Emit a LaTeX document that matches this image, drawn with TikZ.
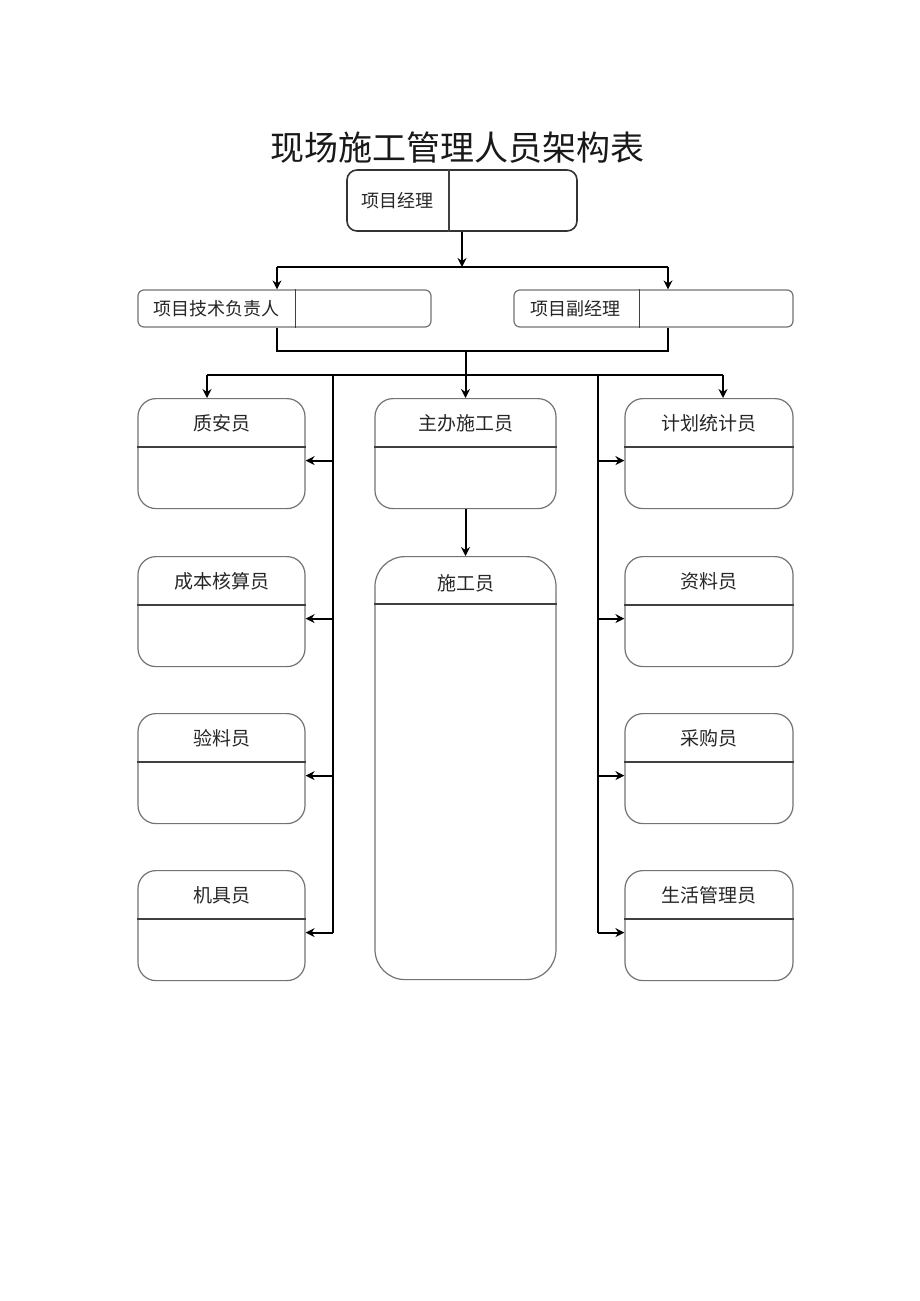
\documentclass[tikz,border=0pt]{standalone}
\usepackage{fontspec}
\newfontfamily\cjk{Noto Sans CJK SC}
\usepackage{tikz}
\usetikzlibrary{positioning,arrows.meta,calc}

\tikzset{
  box/.style={draw=black!55, line width=1.2pt, inner sep=0pt},
  staff/.style={box, rounded corners=18pt, minimum width=167pt, minimum height=110pt},
  head/.style={font=\cjk\fontsize{19}{22}\selectfont, text=black!85},
  lead/.style={font=\cjk\fontsize{18}{21}\selectfont, text=black!85},
  sep/.style={draw=black!75, line width=1.5pt},
  link/.style={draw=black, line width=2pt},
  arr/.style={link, -{Stealth[length=9pt,width=9pt]}}
}

\begin{document}
\begin{tikzpicture}[x=1pt,y=-1pt]
\useasboundingbox (0,0) rectangle (920,1301);

% Title
\node[font=\cjk\fontsize{34}{40}\selectfont, text=black!90] (title) at (457,148) {现场施工管理人员架构表};

% Top level
\node[box, draw=black!80, line width=1.6pt, rounded corners=10pt, minimum width=230pt, minimum height=61pt] (pm) at (462,200.5) {};
\draw[sep] ([xshift=103pt]pm.north west) -- ([xshift=103pt]pm.south west);
\node[lead] (pmtxt) at ($(pm.west)+(51.5,0)$) {项目经理};

\node[box, rounded corners=6pt, minimum width=293pt, minimum height=37pt] (tech) at (284.5,308.5) {};
\draw[sep] ([xshift=158pt]tech.north west) -- ([xshift=158pt]tech.south west);
\node[lead] (techtxt) at ($(tech.west)+(79,0)$) {项目技术负责人};

\node[box, rounded corners=6pt, minimum width=279pt, minimum height=37pt] (dpm) at (653.5,308.5) {};
\draw[sep] ([xshift=126pt]dpm.north west) -- ([xshift=126pt]dpm.south west);
\node[lead] (dpmtxt) at ($(dpm.west)+(62,0)$) {项目副经理};

% Middle column
\node[staff, minimum width=181pt, anchor=north] (zhuban) at (465.5,398) {};
\draw[sep] ([yshift=-49pt]zhuban.north west) -- ([yshift=-49pt]zhuban.north east);
\node[head] (zhubantxt) at ([yshift=-25pt]zhuban.north) {主办施工员};

\node[staff, rounded corners=30pt, minimum width=181pt, minimum height=423pt, anchor=north] (shigong) at (465.5,556) {};
\draw[sep] ([yshift=-48pt]shigong.north west) -- ([yshift=-48pt]shigong.north east);
\node[head] (shigongtxt) at ([yshift=-27pt]shigong.north) {施工员};

% Bus coordinates
\coordinate (t1) at (277,267);
\coordinate (t2) at (668,267);
\coordinate (b1) at (277,351);
\coordinate (b2) at (668,351);
\coordinate (c1) at (207,375);
\coordinate (c2) at (723,375);
\coordinate (lbus) at (333,375);
\coordinate (rbus) at (598,375);

% Side columns
\foreach \nm/\txt/\y in {zhian/质安员/398, chengben/成本核算员/556, yanliao/验料员/713, jiju/机具员/870} {
  \node[staff, anchor=north] (\nm) at (221.5,\y) {};
  \draw[sep] ([yshift=-49pt]\nm.north west) -- ([yshift=-49pt]\nm.north east);
  \node[head] (\nm txt) at ([yshift=-25pt]\nm.north) {\txt};
  \coordinate (\nm-in) at ([yshift=-7pt]\nm.east);
  \draw[arr] (\nm-in -| lbus) -- (\nm-in);
}
\foreach \nm/\txt/\y in {jihua/计划统计员/398, ziliao/资料员/556, caigou/采购员/713, shenghuo/生活管理员/870} {
  \node[staff, minimum width=168pt, anchor=north] (\nm) at (709,\y) {};
  \draw[sep] ([yshift=-49pt]\nm.north west) -- ([yshift=-49pt]\nm.north east);
  \node[head] (\nm txt) at ([yshift=-25pt]\nm.north) {\txt};
  \coordinate (\nm-in) at ([yshift=-7pt]\nm.west);
  \draw[arr] (\nm-in -| rbus) -- (\nm-in);
}

% Connectors
\draw[arr] (pm.south) -- (pm.south |- t1);
\draw[link] (t1) -- (t2);
\draw[arr] (t1) -- (t1 |- tech.north);
\draw[arr] (t2) -- (t2 |- dpm.north);

\draw[link] (tech.south -| b1) -- (b1) -- (b2) -- (dpm.south -| b2);
\draw[arr] (b1 -| zhuban) -- (zhuban.north);

\draw[link] (c1) -- (c2);
\draw[arr] (c1) -- (c1 |- zhian.north);
\draw[arr] (c2) -- (c2 |- jihua.north);
\draw[link] (lbus) -- (lbus |- jiju-in);
\draw[link] (rbus) -- (rbus |- shenghuo-in);

\draw[arr] (zhuban.south) -- (shigong.north);
\end{tikzpicture}
\end{document}
